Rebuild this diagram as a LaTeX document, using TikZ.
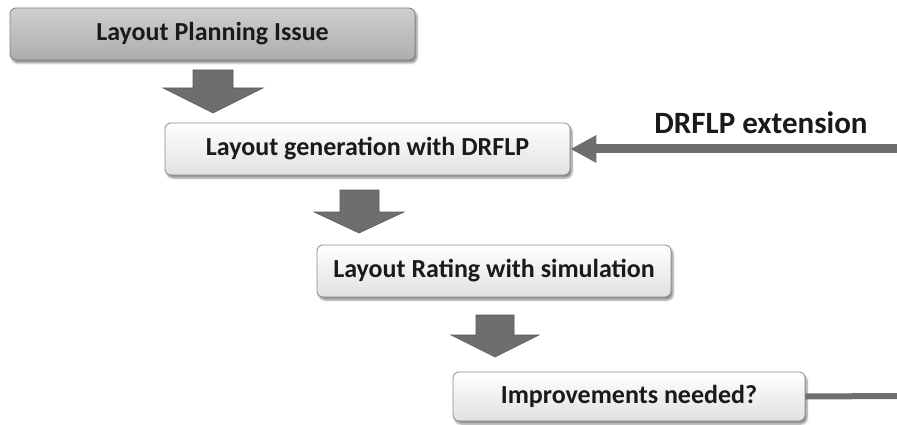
\documentclass[tikz,border=0pt]{standalone}
\usepackage{fontspec}
\setmainfont{Carlito}
\usetikzlibrary{arrows.meta,shadows.blur}

\definecolor{arrowgray}{HTML}{6E6E6E}
\definecolor{arrowedge}{HTML}{5A5A5A}
\definecolor{boxedge}{HTML}{8A8A8A}
\definecolor{inktext}{HTML}{1A1A1A}

\tikzset{
  stepbox/.style={draw=boxedge, line width=0.8pt, rounded corners=6pt,
    top color=white, bottom color=black!12,
    minimum height=52pt, inner sep=0pt,
    font=\bfseries\fontsize{26}{30}\selectfont, text=inktext,
    blur shadow={shadow xshift=2pt, shadow yshift=-3pt,
      shadow blur steps=6, shadow opacity=45}},
  darkbox/.style={stepbox, top color=black!19, bottom color=black!32,
    draw=black!50},
  blockarrow/.style={fill=arrowgray, draw=arrowedge, line width=0.6pt,
    line join=miter},
  feedline/.style={draw=arrowgray, line width=9pt},
}

\begin{document}
\begin{tikzpicture}[x=1pt, y=-1pt]
  \useasboundingbox (0,0) rectangle (897,425);

  % process steps
  \node[darkbox, minimum width=405pt] (issue) at (212.5,34) {Layout Planning Issue};
  \node[stepbox, minimum width=405pt] (gen) at (367.5,149) {Layout generation with DRFLP};
  \node[stepbox, minimum width=354pt] (rate) at (494,271) {Layout Rating with simulation};
  \node[stepbox, minimum width=352pt, minimum height=49pt] (improve) at (629,396.5) {Improvements needed?};

  % block arrows between the steps
  \path[blockarrow] (193,70) -- (233,70) -- (233,88) -- (263,88) -- (213,113)
    -- (163,88) -- (193,88) -- cycle;
  \path[blockarrow] (340,190) -- (379,190) -- (379,212) -- (404,212) -- (359,233)
    -- (314,212) -- (340,212) -- cycle;
  \path[blockarrow] (476,315) -- (514,315) -- (514,335) -- (539,335) -- (495,357)
    -- (451,335) -- (476,335) -- cycle;

  % extension feeding back into the generation step
  \coordinate (extin) at (897,149);
  \coordinate (extout) at (897,396);
  \draw[feedline, -{Triangle[length=26pt, width=26pt]}] (extin) -- (gen.east);
  \draw[feedline, line width=6pt] (improve.east) -- (extout);
  \node[font=\bfseries\fontsize{31}{34}\selectfont, text=inktext] (extlabel)
    at (761,123) {DRFLP extension};
\end{tikzpicture}
\end{document}
